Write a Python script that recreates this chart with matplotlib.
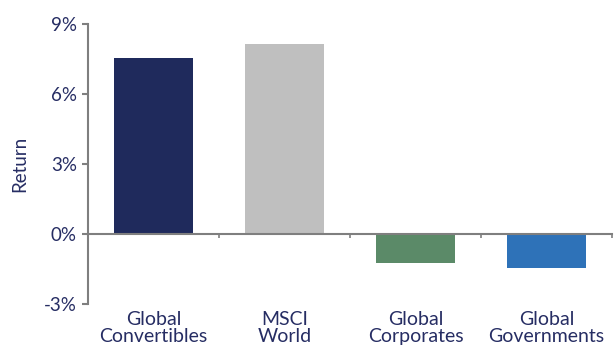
import matplotlib
matplotlib.use("Agg")
import matplotlib.pyplot as plt
import matplotlib.transforms as mtransforms

categories = ["Global\nConvertibles", "MSCI\nWorld", "Global\nCorporates", "Global\nGovernments"]
returns = [7.56, 8.14, -1.25, -1.46]
colors = ["#1f2a5c", "#bfbfbf", "#5b8a68", "#2e72b8"]
yticks = [-3, 0, 3, 6, 9]

text_col = "#262d63"
axis_col = "#7f7f7f"

plt.rcParams['font.family'] = ['Lato', 'DejaVu Sans']

fig = plt.figure(figsize=(6.14, 3.46), dpi=100)
ax = fig.add_axes([0.1433, 0.1214, 0.8534, 0.8092])

x = list(range(len(categories)))
ax.bar(x, returns, width=0.61, color=colors, zorder=2)

ax.set_xlim(-0.5, 3.5)
ax.set_ylim(-3, 9)
ax.set_yticks(yticks)
ax.set_yticklabels([f"{v}%" for v in yticks], color=text_col, fontsize=13.5)
ax.tick_params(axis='y', direction='out', length=4, width=1.5, color=axis_col, pad=4)

ax.set_xticks([-0.5, 0.5, 1.5, 2.5, 3.5])
ax.set_xticklabels([])
ax.tick_params(axis='x', direction='out', length=3, width=1.2, color=axis_col)

for s in ['top', 'right']:
    ax.spines[s].set_visible(False)
ax.spines['left'].set_color(axis_col)
ax.spines['left'].set_linewidth(1.5)
ax.spines['bottom'].set_position(('data', 0))
ax.spines['bottom'].set_color(axis_col)
ax.spines['bottom'].set_linewidth(1.5)
ax.spines['bottom'].set_zorder(3)

ax.set_ylabel("Return", color=text_col, fontsize=13.5, labelpad=11)

trans = mtransforms.blended_transform_factory(ax.transData, ax.transAxes)
for xi, lab in zip(x, categories):
    ax.text(xi, -0.085, lab, transform=trans, ha='center', va='center',
            fontsize=14, color=text_col, linespacing=1.0)

fig.savefig("out.png", dpi=100)
